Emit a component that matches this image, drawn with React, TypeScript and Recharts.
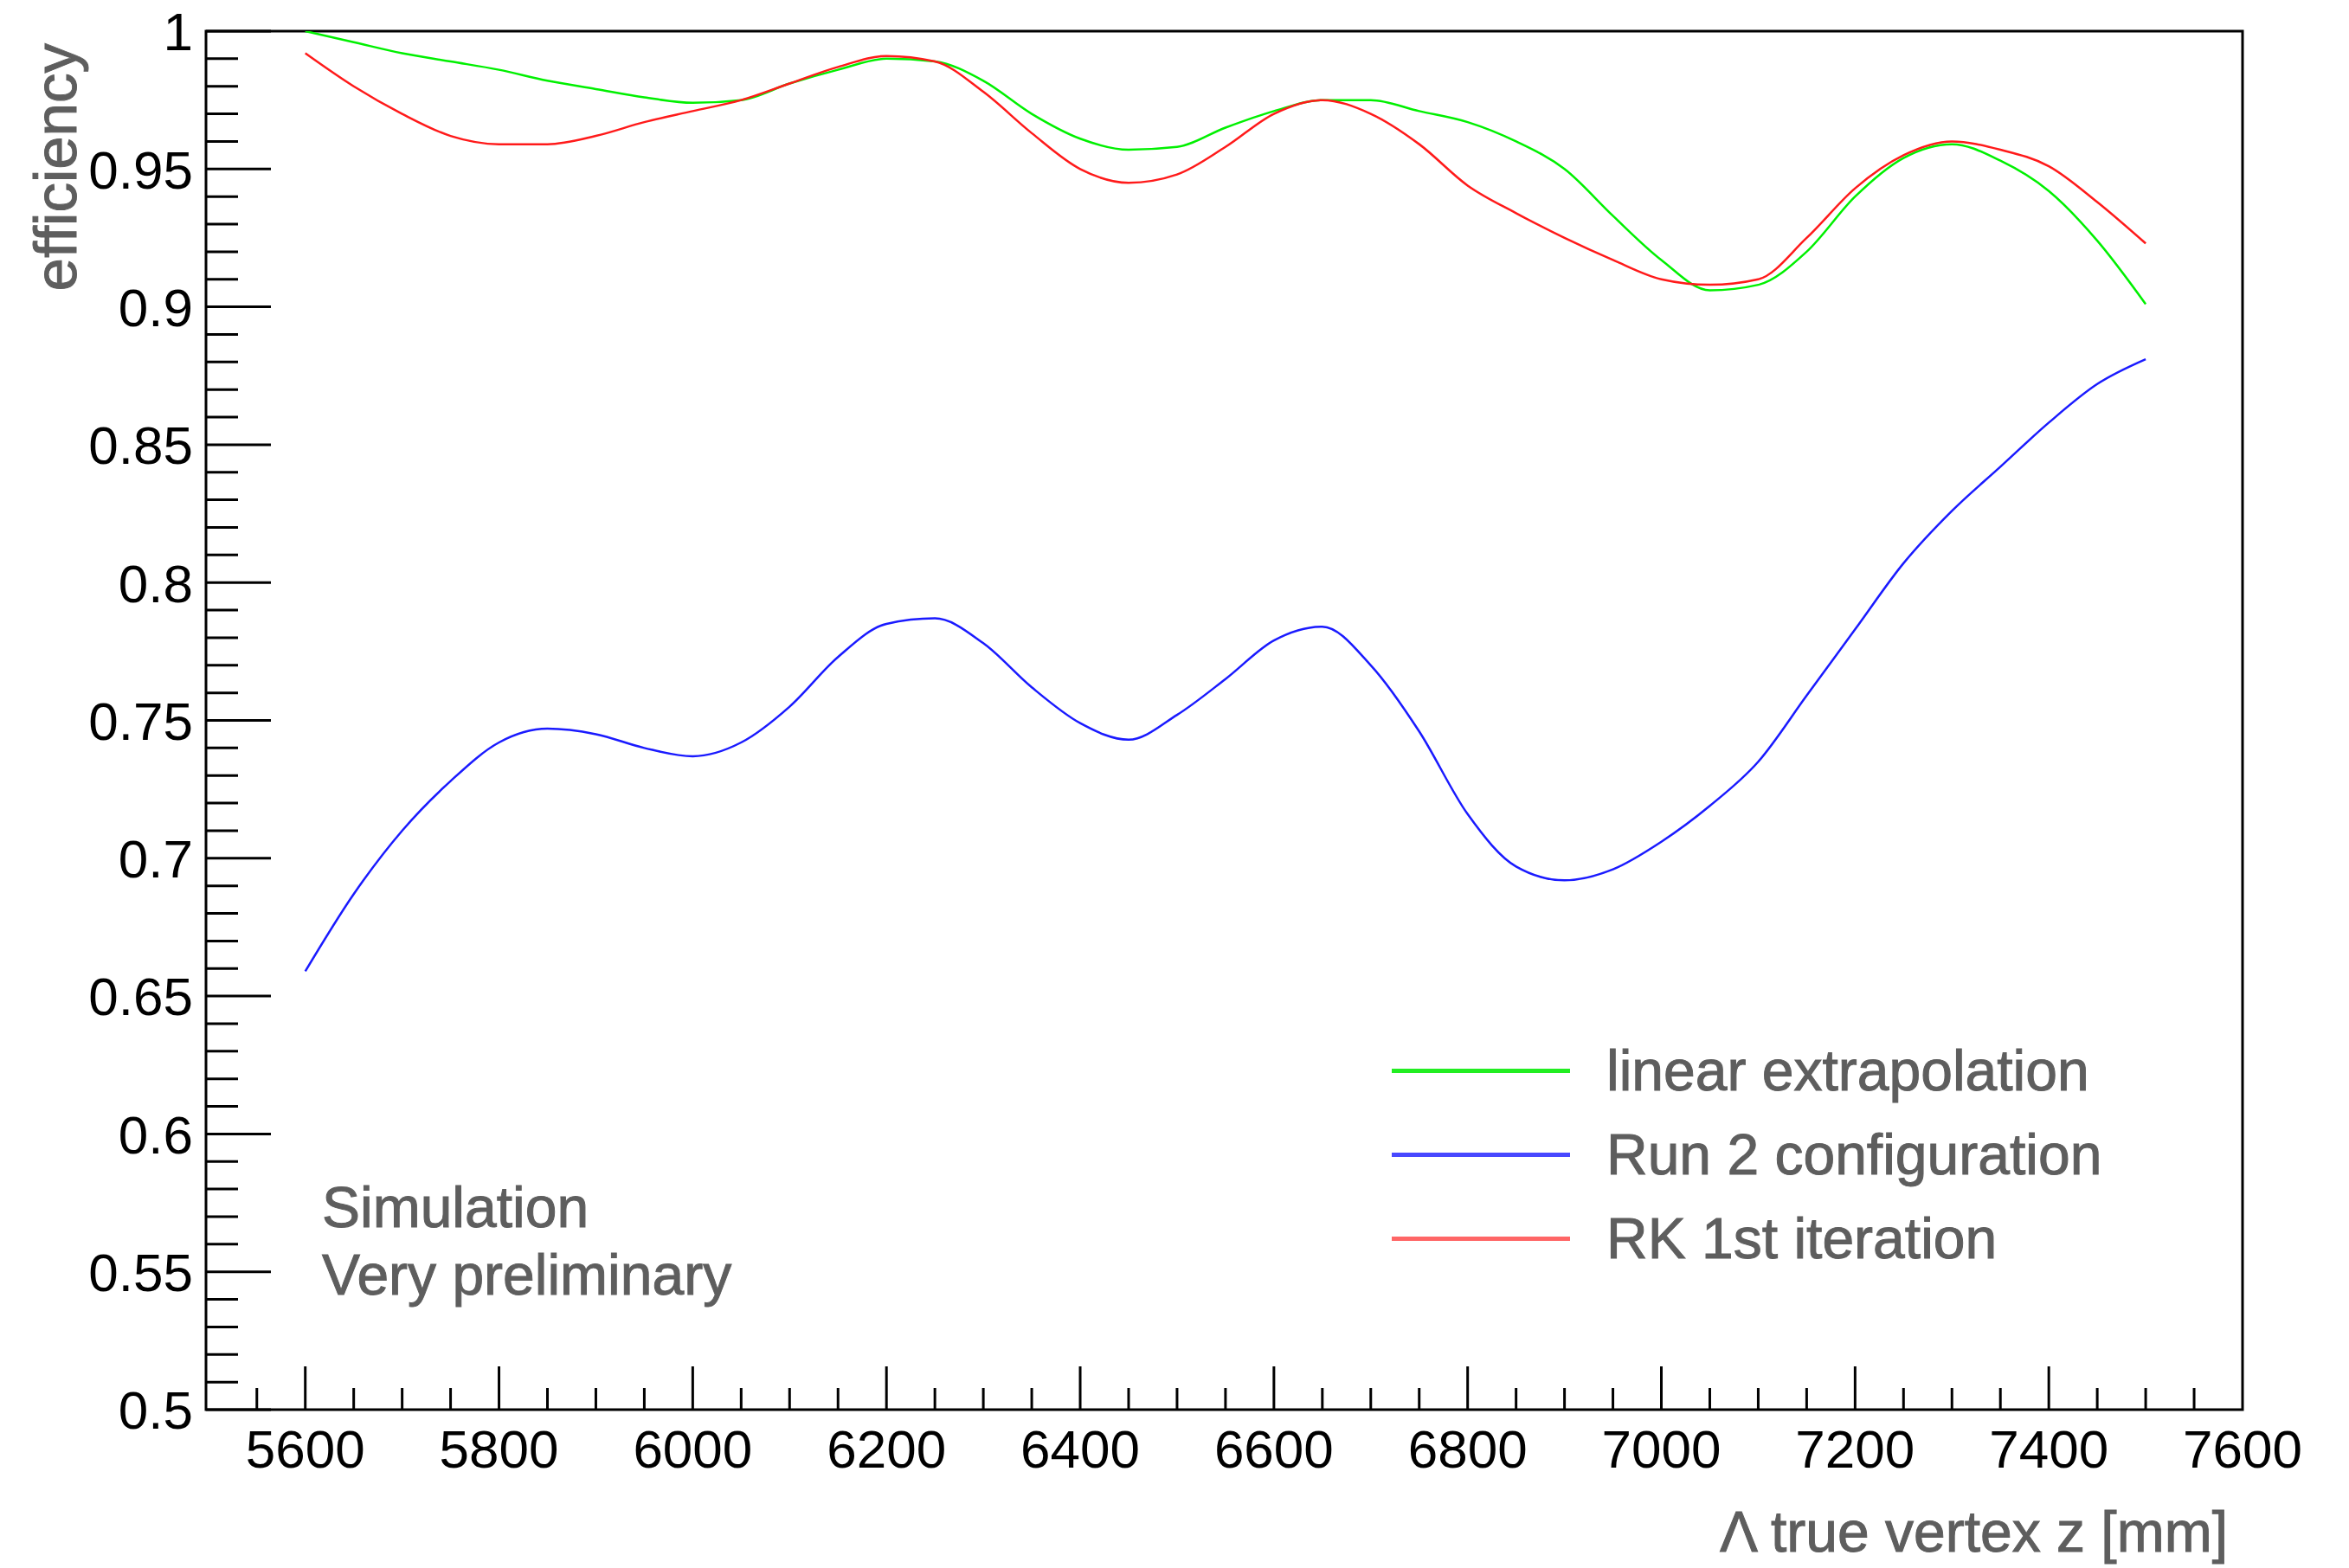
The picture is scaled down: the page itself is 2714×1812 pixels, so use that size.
import React from 'react';
import { LineChart, Line, XAxis, YAxis, Legend, ReferenceArea } from 'recharts';

// Λ true vertex z [mm], sampled every 50 mm
const vertexZ = [
  5600, 5650, 5700, 5750, 5800, 5850, 5900, 5950, 6000, 6050,
  6100, 6150, 6200, 6250, 6300, 6350, 6400, 6450, 6500, 6550,
  6600, 6650, 6700, 6750, 6800, 6850, 6900, 6950, 7000, 7050,
  7100, 7150, 7200, 7250, 7300, 7350, 7400, 7450, 7500,
];

const linearExtrapolation = [
  1.0, 0.996, 0.992, 0.989, 0.986, 0.982, 0.979, 0.976, 0.974, 0.975,
  0.981, 0.986, 0.99, 0.989, 0.982, 0.97, 0.961, 0.957, 0.958, 0.965,
  0.971, 0.975, 0.975, 0.971, 0.967, 0.96, 0.95, 0.933, 0.917, 0.906,
  0.908, 0.92, 0.94, 0.954, 0.959, 0.953, 0.942, 0.924, 0.901,
];

const run2Configuration = [
  0.659, 0.687, 0.71, 0.728, 0.742, 0.747, 0.745, 0.74, 0.737, 0.742,
  0.755, 0.773, 0.785, 0.787, 0.778, 0.762, 0.749, 0.743, 0.752, 0.765,
  0.779, 0.784, 0.77, 0.746, 0.716, 0.697, 0.692, 0.696, 0.706, 0.719,
  0.735, 0.759, 0.783, 0.807, 0.826, 0.842, 0.858, 0.872, 0.881,
];

const rk1stIteration = [
  0.992, 0.98, 0.97, 0.962, 0.959, 0.959, 0.962, 0.967, 0.971, 0.975,
  0.981, 0.987, 0.991, 0.989, 0.978, 0.963, 0.95, 0.945, 0.948, 0.958,
  0.97, 0.975, 0.97, 0.959, 0.944, 0.934, 0.925, 0.917, 0.91, 0.908,
  0.91, 0.925, 0.943, 0.955, 0.96, 0.957, 0.951, 0.938, 0.923,
];

const xTicks = Array.from({ length: 42 }, (_, i) => 5550 + i * 50);
const yTicks = Array.from({ length: 51 }, (_, i) => (50 + i) / 100);

const series = [
  { key: 'linear', name: 'linear extrapolation', color: '#00f000', legendColor: '#22ee22', values: linearExtrapolation },
  { key: 'run2', name: 'Run 2 configuration', color: '#1a1aff', legendColor: '#4848ff', values: run2Configuration },
  { key: 'rk', name: 'RK 1st iteration', color: '#ff1a1a', legendColor: '#ff6666', values: rk1stIteration },
];

const chartData = vertexZ.map((z, i) => {
  const row: { [k: string]: number } = { z };
  series.forEach((s) => {
    row[s.key] = s.values[i];
  });
  return row;
});

const W = 2714;
const H = 1812;
const FONT = '"Liberation Sans", Arial, Helvetica, sans-serif';
const GRAY = '#5e5e5e';
const Y_TICK_GAP = 15;
const X_TICK_GAP = 22;

const YTick = (props: any) => {
  const { x, y, payload } = props;
  const v = payload.value as number;
  const major = Math.round(v * 100) % 5 === 0;
  const axisX = x + Y_TICK_GAP;
  return (
    <g>
      <line x1={axisX} x2={axisX + (major ? 75 : 37)} y1={y} y2={y} stroke="#000" strokeWidth={3} />
      {major && (
        <text x={x} y={y} dy="0.36em" textAnchor="end" fontFamily={FONT} fontSize={62} fill="#000">
          {String(v)}
        </text>
      )}
    </g>
  );
};

const XTick = (props: any) => {
  const { x, y, payload } = props;
  const v = payload.value as number;
  const major = v % 200 === 0;
  const axisY = y - X_TICK_GAP;
  return (
    <g>
      {v < 7600 && (
        <line x1={x} x2={x} y1={axisY} y2={axisY - (major ? 50 : 25)} stroke="#000" strokeWidth={3} />
      )}
      {major && (
        <text x={x} y={y} dy="0.72em" textAnchor="middle" fontFamily={FONT} fontSize={62} fill="#000">
          {v}
        </text>
      )}
    </g>
  );
};

const grayText = {
  fontFamily: FONT,
  fontSize: 66,
  color: GRAY,
  whiteSpace: 'nowrap' as const,
  WebkitTextStroke: `1px ${GRAY}`,
  lineHeight: '80px',
};

const renderLegend = () => (
  <div style={{ position: 'relative', width: W, height: H }}>
    {series.map((s, i) => (
      <div
        key={s.key}
        style={{ position: 'absolute', left: 1608, top: 1197 + i * 97, height: 80, display: 'flex', alignItems: 'center' }}
      >
        <div style={{ width: 206, height: 5, background: s.legendColor }} />
        <span style={{ ...grayText, marginLeft: 42 }}>{s.name}</span>
      </div>
    ))}
    <div style={{ ...grayText, position: 'absolute', left: 372, top: 1355 }}>Simulation</div>
    <div style={{ ...grayText, position: 'absolute', left: 372, top: 1433 }}>Very preliminary</div>
  </div>
);

const App = () => {
  return (
    <div style={{ position: 'absolute', left: 0, top: 0, width: W, height: H, background: '#fff' }}>
      <LineChart width={W} height={H} data={chartData} margin={{ top: 36, right: 123, bottom: 0, left: 0 }}>
        <XAxis
          dataKey="z"
          type="number"
          domain={[5497.5, 7600]}
          allowDataOverflow
          ticks={xTicks}
          interval={0}
          tickSize={0}
          tickMargin={X_TICK_GAP}
          axisLine={false}
          tickLine={false}
          tick={<XTick />}
          height={183}
          label={(p: any) => (
            <text
              x={p.viewBox.x + p.viewBox.width - 17}
              y={p.viewBox.y + 164}
              textAnchor="end"
              fontFamily={FONT}
              fontSize={66}
              fill={GRAY}
              stroke={GRAY}
              strokeWidth={1}
            >
              Λ true vertex z [mm]
            </text>
          )}
        />
        <YAxis
          type="number"
          domain={[0.5, 1]}
          allowDataOverflow
          ticks={yTicks}
          interval={0}
          tickSize={0}
          tickMargin={Y_TICK_GAP}
          axisLine={false}
          tickLine={false}
          tick={<YTick />}
          width={238}
          label={(p: any) => (
            <text
              x={p.viewBox.x + 88}
              y={p.viewBox.y + 14}
              transform={`rotate(-90 ${p.viewBox.x + 88} ${p.viewBox.y + 14})`}
              textAnchor="end"
              fontFamily={FONT}
              fontSize={69}
              fill={GRAY}
              stroke={GRAY}
              strokeWidth={1}
            >
              efficiency
            </text>
          )}
        />
        <ReferenceArea
          x1={5497.5}
          x2={7600}
          y1={0.5}
          y2={1}
          fill="none"
          stroke="#000"
          strokeWidth={3}
          ifOverflow="visible"
        />
        {series.map((s) => (
          <Line
            key={s.key}
            type="monotone"
            dataKey={s.key}
            name={s.name}
            stroke={s.color}
            strokeWidth={2.5}
            dot={false}
            activeDot={false}
            isAnimationActive={false}
          />
        ))}
        <Legend
          layout="horizontal"
          verticalAlign="middle"
          align="center"
          content={renderLegend}
          wrapperStyle={{ left: 0, top: 0, width: W, height: H }}
        />
      </LineChart>
    </div>
  );
};

export default App;
